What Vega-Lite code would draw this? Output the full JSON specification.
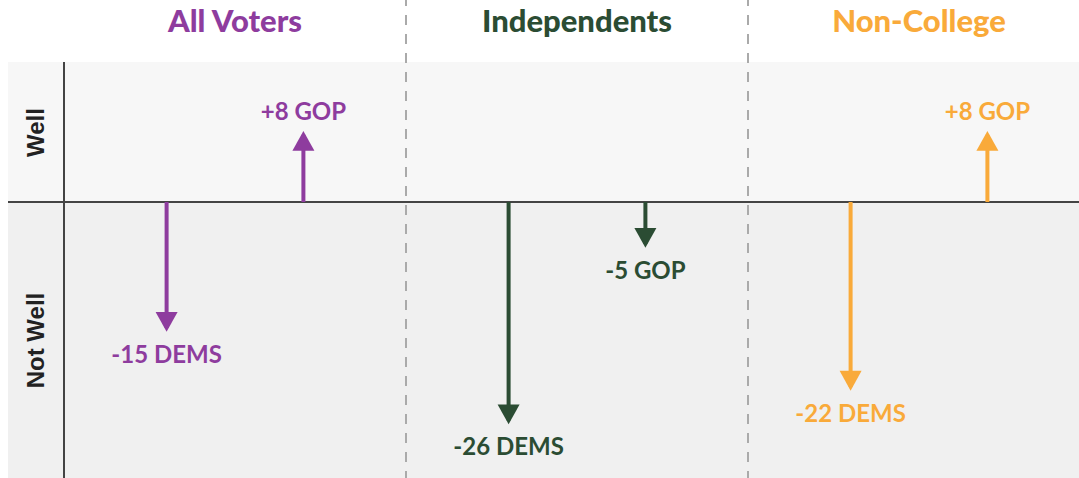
{
  "$schema": "https://vega.github.io/schema/vega-lite/v6.json",
  "width": 1071,
  "height": 416,
  "autosize": {"type": "none"},
  "padding": {"left": 8, "top": 62, "right": 0, "bottom": 0},
  "background": "white",
  "config": {"view": {"fill": "#f7f7f7", "stroke": null}, "font": "Lato"},
  "datasets": {
    "votes": [
      {"group": "All Voters", "party": "DEMS", "value": -15, "label": "-15 DEMS"},
      {"group": "All Voters", "party": "GOP", "value": 8, "label": "+8 GOP"},
      {"group": "Independents", "party": "DEMS", "value": -26, "label": "-26 DEMS"},
      {"group": "Independents", "party": "GOP", "value": -5, "label": "-5 GOP"},
      {"group": "Non-College", "party": "DEMS", "value": -22, "label": "-22 DEMS"},
      {"group": "Non-College", "party": "GOP", "value": 8, "label": "+8 GOP"}
    ],
    "dividers": [{"group": "Independents"}, {"group": "Non-College"}],
    "frame": [{"group": "All Voters"}]
  },
  "data": {"name": "votes"},
  "layer": [
    {
      "data": {"name": "frame"},
      "mark": {"type": "rect", "color": "#f0f0f0"},
      "encoding": {
        "y": {"datum": 0, "type": "quantitative",
          "scale": {"domain": [-32.86, 16.67], "nice": false, "zero": false},
          "axis": {"values": [8.33, -16.43], "labelExpr": "datum.value > 0 ? 'Well' : 'Not Well'",
            "labelAngle": -90, "labelAlign": "center", "labelBaseline": "alphabetic",
            "labelFont": "Liberation Sans", "labelFontWeight": "bold", "labelFontSize": 24,
            "labelColor": "#222222", "domain": false, "ticks": false, "tickSize": 0, "grid": false,
            "title": null, "offset": -35, "labelPadding": 0, "labelFlush": false, "labelOverlap": false,
            "labelBound": false, "zindex": 1}},
        "y2": {"datum": -40}
      }
    },
    {
      "data": {"name": "dividers"},
      "mark": {"type": "rule", "color": "#aaaaaa", "strokeWidth": 2, "strokeDash": [10, 9]},
      "encoding": {
        "x": {"field": "group", "type": "nominal", "bandPosition": 0,
          "scale": {"domain": ["All Voters", "Independents", "Non-College"], "range": [56, 1082], "paddingInner": 0, "paddingOuter": 0},
          "axis": null},
        "y": {"datum": -40, "type": "quantitative", "scale": {"domain": [-32.86, 16.67], "nice": false, "zero": false}},
        "y2": {"datum": 24.1}
      }
    },
    {
      "data": {"name": "frame"},
      "mark": {"type": "rule", "color": "#444444", "strokeWidth": 2},
      "encoding": {
        "x": {"field": "group", "type": "nominal", "bandPosition": 0,
          "scale": {"domain": ["All Voters", "Independents", "Non-College"], "range": [56, 1082], "paddingInner": 0, "paddingOuter": 0},
          "axis": null}
      }
    },
    {
      "data": {"name": "frame"},
      "mark": {"type": "rule", "color": "#444444", "strokeWidth": 2},
      "encoding": {
        "y": {"datum": 0, "type": "quantitative", "scale": {"domain": [-32.86, 16.67], "nice": false, "zero": false}}
      }
    },
    {
      "mark": {"type": "rule", "strokeWidth": 4},
      "encoding": {
        "x": {"field": "group", "type": "nominal",
          "scale": {"domain": ["All Voters", "Independents", "Non-College"], "range": [56, 1082], "paddingInner": 0, "paddingOuter": 0},
          "axis": null},
        "xOffset": {"field": "party", "type": "nominal", "scale": {"type": "point", "domain": ["DEMS", "GOP"], "padding": 0.75}},
        "y": {"field": "value", "type": "quantitative", "scale": {"domain": [-32.86, 16.67], "nice": false, "zero": false}},
        "y2": {"datum": 0},
        "color": {"field": "group", "type": "nominal",
          "scale": {"domain": ["All Voters", "Independents", "Non-College"], "range": ["#8e3c9e", "#2b4c33", "#f9aa3a"]},
          "legend": null}
      }
    },
    {
      "mark": {"type": "point", "filled": true, "opacity": 1, "size": 484},
      "encoding": {
        "x": {"field": "group", "type": "nominal",
          "scale": {"domain": ["All Voters", "Independents", "Non-College"], "range": [56, 1082], "paddingInner": 0, "paddingOuter": 0},
          "axis": null},
        "xOffset": {"field": "party", "type": "nominal", "scale": {"type": "point", "domain": ["DEMS", "GOP"], "padding": 0.75}},
        "y": {"field": "value", "type": "quantitative", "scale": {"domain": [-32.86, 16.67], "nice": false, "zero": false}},
        "shape": {"condition": {"test": "datum.value > 0", "value": "M -1 1.45 L 1 1.45 L 0 -0.35 Z"}, "value": "M -1 -1.45 L 1 -1.45 L 0 0.35 Z"},
        "color": {"field": "group", "type": "nominal",
          "scale": {"domain": ["All Voters", "Independents", "Non-College"], "range": ["#8e3c9e", "#2b4c33", "#f9aa3a"]},
          "legend": null}
      }
    },
    {
      "transform": [{"filter": "datum.value > 0"}],
      "mark": {"type": "text", "font": "Lato", "fontWeight": "bold", "fontSize": 24, "baseline": "alphabetic", "align": "center", "dy": -15},
      "encoding": {
        "x": {"field": "group", "type": "nominal",
          "scale": {"domain": ["All Voters", "Independents", "Non-College"], "range": [56, 1082], "paddingInner": 0, "paddingOuter": 0},
          "axis": null},
        "xOffset": {"field": "party", "type": "nominal", "scale": {"type": "point", "domain": ["DEMS", "GOP"], "padding": 0.75}},
        "y": {"field": "value", "type": "quantitative", "scale": {"domain": [-32.86, 16.67], "nice": false, "zero": false}},
        "text": {"field": "label"},
        "color": {"field": "group", "type": "nominal",
          "scale": {"domain": ["All Voters", "Independents", "Non-College"], "range": ["#8e3c9e", "#2b4c33", "#f9aa3a"]},
          "legend": null}
      }
    },
    {
      "transform": [{"filter": "datum.value < 0"}],
      "mark": {"type": "text", "font": "Lato", "fontWeight": "bold", "fontSize": 24, "baseline": "alphabetic", "align": "center", "dy": 35},
      "encoding": {
        "x": {"field": "group", "type": "nominal",
          "scale": {"domain": ["All Voters", "Independents", "Non-College"], "range": [56, 1082], "paddingInner": 0, "paddingOuter": 0},
          "axis": null},
        "xOffset": {"field": "party", "type": "nominal", "scale": {"type": "point", "domain": ["DEMS", "GOP"], "padding": 0.75}},
        "y": {"field": "value", "type": "quantitative", "scale": {"domain": [-32.86, 16.67], "nice": false, "zero": false}},
        "text": {"field": "label"},
        "color": {"field": "group", "type": "nominal",
          "scale": {"domain": ["All Voters", "Independents", "Non-College"], "range": ["#8e3c9e", "#2b4c33", "#f9aa3a"]},
          "legend": null}
      }
    },
    {
      "transform": [{"filter": "datum.party === 'DEMS'"}],
      "mark": {"type": "text", "font": "Lato", "fontWeight": 900, "fontSize": 31, "baseline": "alphabetic", "align": "center"},
      "encoding": {
        "x": {"field": "group", "type": "nominal",
          "scale": {"domain": ["All Voters", "Independents", "Non-College"], "range": [56, 1082], "paddingInner": 0, "paddingOuter": 0},
          "axis": null},
        "y": {"datum": 20.24, "type": "quantitative", "scale": {"domain": [-32.86, 16.67], "nice": false, "zero": false}},
        "text": {"field": "group"},
        "color": {"field": "group", "type": "nominal",
          "scale": {"domain": ["All Voters", "Independents", "Non-College"], "range": ["#8e3c9e", "#2b4c33", "#f9aa3a"]},
          "legend": null}
      }
    }
  ]
}
